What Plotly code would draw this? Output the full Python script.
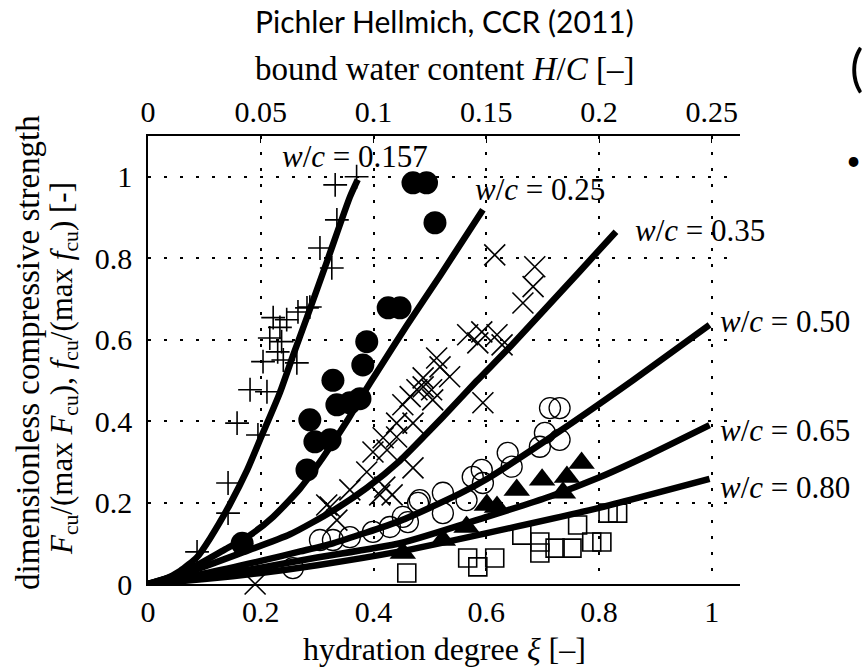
import plotly.graph_objects as go

# ---------------- data ----------------
# w/c = 0.157  (+)
plus_x = [0.087, 0.142, 0.142, 0.158, 0.195, 0.181, 0.211, 0.204, 0.24, 0.264, 0.216, 0.237, 0.23,
          0.222, 0.246, 0.234, 0.266, 0.282, 0.287, 0.305, 0.326, 0.335, 0.332, 0.37]
plus_y = [0.079, 0.174, 0.248, 0.395, 0.366, 0.477, 0.472, 0.546, 0.55, 0.543, 0.604, 0.595, 0.57,
          0.654, 0.649, 0.63, 0.668, 0.678, 0.68, 0.825, 0.776, 0.894, 0.98, 1.0]
# w/c = 0.25  (filled circles)
dot_x = [0.167, 0.282, 0.296, 0.323, 0.287, 0.335, 0.358, 0.376, 0.328, 0.381, 0.388, 0.426, 0.447,
         0.509, 0.47, 0.494]
dot_y = [0.100, 0.280, 0.349, 0.354, 0.403, 0.440, 0.445, 0.455, 0.500, 0.538, 0.595, 0.678, 0.678,
         0.887, 0.985, 0.985]
# w/c = 0.35  (x)
cross_x = [0.19, 0.323, 0.335, 0.317, 0.358, 0.388, 0.411, 0.42, 0.433, 0.47, 0.399, 0.424, 0.417,
           0.441, 0.441, 0.47, 0.452, 0.465, 0.505, 0.488, 0.477, 0.503, 0.488, 0.535, 0.518, 0.512,
           0.585, 0.567, 0.592, 0.619, 0.628, 0.594, 0.665, 0.683, 0.686, 0.615]
cross_y = [0.0, 0.189, 0.157, 0.194, 0.231, 0.275, 0.219, 0.238, 0.219, 0.285, 0.324, 0.329, 0.359,
           0.361, 0.395, 0.395, 0.44, 0.46, 0.452, 0.484, 0.477, 0.477, 0.506, 0.509, 0.533, 0.555,
           0.592, 0.612, 0.619, 0.612, 0.587, 0.445, 0.69, 0.73, 0.779, 0.808]
# w/c = 0.50  (open circles)
ring_x = [0.257, 0.305, 0.328, 0.358, 0.399, 0.429, 0.452, 0.461, 0.482, 0.479, 0.523, 0.523, 0.565,
          0.576, 0.594, 0.592, 0.645, 0.638, 0.695, 0.704, 0.73, 0.713, 0.73]
ring_y = [0.039, 0.108, 0.108, 0.115, 0.128, 0.14, 0.165, 0.152, 0.206, 0.199, 0.224, 0.174, 0.206,
          0.263, 0.248, 0.28, 0.288, 0.322, 0.337, 0.371, 0.354, 0.432, 0.432]
# w/c = 0.65  (filled triangles)
tri_x = [0.452, 0.523, 0.565, 0.601, 0.619, 0.654, 0.699, 0.736, 0.743, 0.769]
tri_y = [0.076, 0.108, 0.14, 0.194, 0.189, 0.231, 0.256, 0.224, 0.263, 0.297]
# w/c = 0.80  (open squares)
sq_x = [0.459, 0.567, 0.585, 0.615, 0.663, 0.695, 0.695, 0.722, 0.752, 0.762, 0.787, 0.805, 0.816, 0.833]
sq_y = [0.027, 0.064, 0.042, 0.064, 0.12, 0.103, 0.076, 0.088, 0.088, 0.145, 0.103, 0.103, 0.174, 0.174]

# model curves
c157_x = [0, 0.03, 0.057, 0.087, 0.11, 0.145, 0.176, 0.202, 0.234, 0.257, 0.282, 0.317, 0.358, 0.372]
c157_y = [0, 0.012, 0.032, 0.066, 0.112, 0.195, 0.28, 0.365, 0.47, 0.56, 0.655, 0.79, 0.95, 0.993]
c25_x = [0, 0.05, 0.092, 0.133, 0.181, 0.222, 0.27, 0.31, 0.353, 0.381, 0.406, 0.459, 0.518, 0.594]
c25_y = [0, 0.022, 0.05, 0.082, 0.12, 0.165, 0.235, 0.31, 0.4, 0.465, 0.52, 0.635, 0.757, 0.919]
c35_x = [0, 0.08, 0.163, 0.252, 0.328, 0.388, 0.447, 0.495, 0.523, 0.582, 0.644, 0.764, 0.83]
c35_y = [0, 0.033, 0.075, 0.122, 0.18, 0.236, 0.303, 0.37, 0.41, 0.497, 0.585, 0.765, 0.865]
c50_x = [0, 0.1, 0.204, 0.27, 0.328, 0.447, 0.553, 0.601, 0.73, 0.86, 0.996]
c50_y = [0, 0.026, 0.058, 0.08, 0.1, 0.155, 0.222, 0.258, 0.375, 0.5, 0.636]
c65_x = [0, 0.1, 0.2, 0.3, 0.447, 0.601, 0.713, 0.801, 0.89, 0.996]
c65_y = [0, 0.018, 0.04, 0.065, 0.1, 0.165, 0.215, 0.262, 0.318, 0.39]
c80_x = [0, 0.1, 0.2, 0.3, 0.447, 0.601, 0.8, 0.996]
c80_y = [0, 0.012, 0.027, 0.046, 0.08, 0.125, 0.187, 0.258]

curve_labels = ["0.157", "0.25", "0.35", "0.50", "0.65", "0.80"]
label_x = [0.234, 0.576, 0.86, 1.011, 1.011, 1.011]
label_y = [1.049, 0.968, 0.867, 0.644, 0.378, 0.238]

x_ticks = [0, 0.2, 0.4, 0.6, 0.8, 1]
x_ticktext = ["0", "0.2", "0.4", "0.6", "0.8", "1"]
y_ticks = [0, 0.2, 0.4, 0.6, 0.8, 1]
y_ticktext = ["0", "0.2", "0.4", "0.6", "0.8", "1"]
hc_ticks = [0, 0.05, 0.1, 0.15, 0.2, 0.25]
hc_ticktext = ["0", "0.05", "0.1", "0.15", "0.2", "0.25"]

# ---------------- figure ----------------
SERIF = "Liberation Serif"
BLACK = "black"
fig = go.Figure()

def mk(x, y, symbol, size, filled=False, lw=1.5):
    fig.add_trace(go.Scatter(
        x=x, y=y, mode="markers", showlegend=False, hoverinfo="skip", cliponaxis=False,
        marker=dict(symbol=symbol, size=size, color=BLACK,
                    line=dict(color=BLACK, width=0 if filled else lw))))

mk(plus_x, plus_y, "cross-thin", 17, lw=1.6)
mk(dot_x, dot_y, "circle", 23, filled=True)
mk(cross_x, cross_y, "x-thin", 21, lw=1.6)
mk(ring_x, ring_y, "circle-open", 21, lw=1.3)
mk(tri_x, tri_y, "triangle-up", 23, filled=True)
mk(sq_x, sq_y, "square-open", 18, lw=1.6)

for cx, cy in [(c157_x, c157_y), (c25_x, c25_y), (c35_x, c35_y),
               (c50_x, c50_y), (c65_x, c65_y), (c80_x, c80_y)]:
    fig.add_trace(go.Scatter(x=cx, y=cy, mode="lines", showlegend=False, hoverinfo="skip",
                             line=dict(color=BLACK, width=6.5, shape="spline", smoothing=0.6),
                             cliponaxis=False))

# trace that anchors the top (bound water content) axis
fig.add_trace(go.Scatter(x=hc_ticks, y=[None] * len(hc_ticks), xaxis="x2", mode="markers",
                         showlegend=False, hoverinfo="skip"))

grid = dict(showgrid=True, gridcolor=BLACK, gridwidth=1.5, griddash="3px,13px")
tickfont = dict(family=SERIF, size=30, color=BLACK)

fig.update_layout(
    width=862, height=669,
    margin=dict(l=148, r=122, t=136, b=85),
    paper_bgcolor="white", plot_bgcolor="white",
    xaxis=dict(range=[0, 1.05], tickvals=x_ticks, ticktext=x_ticktext, tickfont=tickfont,
               showline=True, linecolor=BLACK, linewidth=1.5, zeroline=False, ticks="",
               ticklabelstandoff=0, **grid),
    xaxis2=dict(range=[0, 0.2625], tickvals=hc_ticks, ticktext=hc_ticktext, tickfont=tickfont,
                overlaying="x", side="top", anchor="y", showline=True, linecolor=BLACK,
                linewidth=1.5, showgrid=False, zeroline=False, ticks="inside", ticklen=7,
                tickcolor=BLACK, tickwidth=1.2, ticklabelstandoff=0),
    yaxis=dict(range=[0, 1.1], tickvals=y_ticks, ticktext=y_ticktext, tickfont=tickfont,
               showline=True, linecolor=BLACK, linewidth=1.5, zeroline=False, ticks="",
               ticklabelstandoff=8, **grid),
)

ann = []
for lab, lx, ly in zip(curve_labels, label_x, label_y):
    ann.append(dict(x=lx, y=ly, xref="x", yref="y", xanchor="left", yanchor="middle",
                    text="<i>w</i>/<i>c</i> = " + lab, showarrow=False,
                    font=dict(family=SERIF, size=31, color=BLACK)))

ann += [
    dict(x=0.5, y=1.2567, xref="paper", yref="paper", text="Pichler Hellmich, CCR (2011)",
         showarrow=False, xanchor="center", yanchor="middle",
         font=dict(family="Lato", size=30, color=BLACK)),
    dict(x=0.5, y=1.1496, xref="paper", yref="paper",
         text="bound water content <i>H</i>/<i>C</i> [–]", showarrow=False,
         xanchor="center", yanchor="middle", font=dict(family=SERIF, size=33, color=BLACK)),
    dict(x=0.5, y=-0.145, xref="paper", yref="paper",
         text="hydration degree <i>ξ</i> [–]", showarrow=False,
         xanchor="center", yanchor="middle", font=dict(family=SERIF, size=32, color=BLACK)),
    dict(x=-0.2027, y=0.5156, xref="paper", yref="paper", textangle=-90,
         text="dimensionless compressive strength", showarrow=False,
         xanchor="center", yanchor="middle", font=dict(family=SERIF, size=33, color=BLACK)),
    dict(x=-0.1419, y=0.482, xref="paper", yref="paper", textangle=-90,
         text="<i>F</i><sub>cu</sub>/(max <i>F</i><sub>cu</sub>), <i>f</i><sub>cu</sub>/(max <i>f</i><sub>cu</sub>) [-]",
         showarrow=False, xanchor="center", yanchor="middle",
         font=dict(family=SERIF, size=31, color=BLACK)),
    dict(x=1.182, y=1.154, xref="paper", yref="paper", text="(", showarrow=False,
         xanchor="left", yanchor="middle", font=dict(family="Lato", size=50, color=BLACK)),
    dict(x=1.175, y=0.946, xref="paper", yref="paper", text="•", showarrow=False,
         xanchor="left", yanchor="middle", font=dict(family="Lato", size=26, color=BLACK)),
]
fig.update_layout(annotations=ann)

fig.write_html("out.html")
